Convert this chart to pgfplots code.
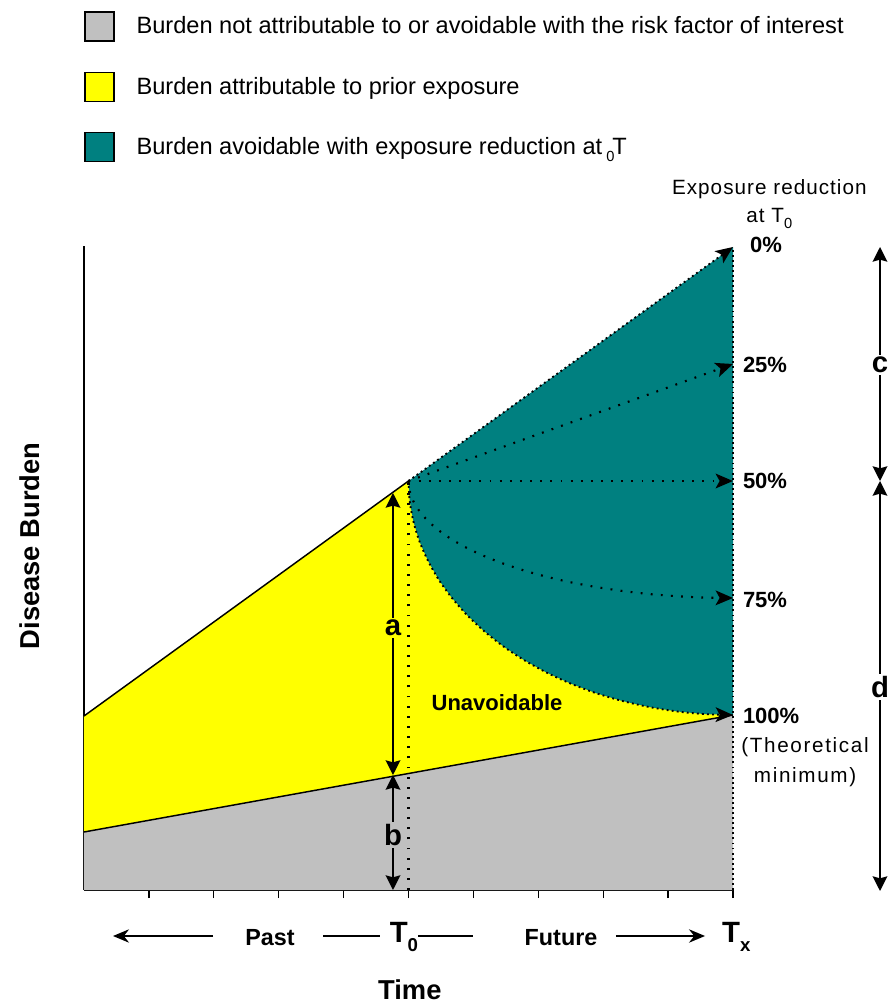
\documentclass[border=0pt]{standalone}
\usepackage{pgfplots}
\pgfplotsset{compat=1.18}
\usepackage{pgfplotstable}
\usepackage{fontspec}
\setmainfont{Liberation Sans}
\usetikzlibrary{arrows.meta}
\definecolor{cgray}{RGB}{192,192,192}
\definecolor{cyellow}{RGB}{255,255,0}
\definecolor{cteal}{RGB}{0,128,128}
% reduction curves (x, 100% reduction, 75% reduction)
\pgfplotstableread{
x      y100   y75
5.000  409.0  409.0
5.019  388.6  398.8
5.076  368.4  388.7
5.170  348.4  378.7
5.302  329.0  369.0
5.468  310.1  359.6
5.670  292.0  350.5
5.904  274.8  341.9
6.170  258.6  333.8
6.464  243.5  326.3
6.786  229.7  319.4
7.132  217.3  313.2
7.500  206.4  307.7
7.887  196.9  303.0
8.290  189.1  299.1
8.706  183.0  296.0
9.132  178.6  293.8
9.564  175.9  292.4
10.000 175.0  292.0
}\curves
\begin{document}
\begin{tikzpicture}[
  dotl/.style={black, line width=1.6pt, dash pattern=on 1.4pt off 6.2pt},
  dens/.style={black, line width=1.4pt, dash pattern=on 1.4pt off 2.4pt},
  tip/.style={-{Stealth[length=13pt,width=11pt,inset=3pt]}},
  dtip/.style={line width=1.4pt,{Stealth[length=11pt,width=11pt,inset=1.5pt]}-{Stealth[length=11pt,width=11pt,inset=1.5pt]}},
  bl/.style={font=\bfseries\fontsize{22}{26}\selectfont, inner sep=1.5pt},
  pc/.style={font=\bfseries\fontsize{16.5}{20}\selectfont, anchor=west, inner sep=0pt},
]
\begin{axis}[
  at={(0,0)}, anchor=south west,
  scale only axis, width=486.75pt, height=483pt,
  xmin=0, xmax=10, ymin=0, ymax=644,
  axis x line*=bottom, axis y line*=left,
  axis line style={line width=1.5pt},
  xtick={1,...,10}, xticklabels={}, ytick=\empty,
  tick align=outside, major tick length=6pt,
  xtick style={line width=1pt, black},
  clip=false,
  legend style={at={(axis cs:0,879)}, anchor=north west, draw=none, fill=none,
    inner sep=0pt, row sep=22.5pt, column sep=16.5pt,
    nodes={inner sep=0pt, anchor=west}, font=\fontsize{17.7}{20}\selectfont},
  legend cell align=left,
  legend image code/.code={\draw[#1, draw=black, line width=1pt] (0pt,-10.875pt) rectangle (21.75pt,10.875pt);},
]
% filled areas
\addplot[fill=cgray, draw=none] coordinates {(0,0) (0,58) (10,175) (10,0)};
\addlegendentry{Burden not attributable to or avoidable with the risk factor of interest}
\addplot[fill=cyellow, draw=none] coordinates {(0,58) (0,174) (5,409) (10,175)};
\addlegendentry{Burden attributable to prior exposure}
\addplot[fill=cteal, draw=none] coordinates {
 (5.000,409.0) (5.019,388.6) (5.076,368.4) (5.170,348.4) (5.302,329.0) (5.468,310.1)
 (5.670,292.0) (5.904,274.8) (6.170,258.6) (6.464,243.5) (6.786,229.7) (7.132,217.3)
 (7.500,206.4) (7.887,196.9) (8.290,189.1) (8.706,183.0) (9.132,178.6) (9.564,175.9)
 (10.000,175.0) (10,643)};
\addlegendentry{Burden avoidable with exposure reduction at\,\raisebox{-0.55ex}{\fontsize{11}{12}\selectfont 0}\kern-1.5pt T}
% boundary lines
\addplot[forget plot, black, line width=1.1pt] coordinates {(0,58) (10,175)};
\addplot[forget plot, black, line width=1.1pt] coordinates {(0,174) (5,409)};
\addplot[forget plot, dotl] coordinates {(5,0) (5,409)};
\addplot[forget plot, dens] coordinates {(10,0) (10,643)};
% reduction scenarios
\addplot[forget plot, dens, tip] coordinates {(5,409) (10,643)};
\addplot[forget plot, dotl, tip] coordinates {(5,409) (10,526)};
\addplot[forget plot, dotl, tip] coordinates {(5,409) (10,409)};
\addplot[forget plot, dotl, tip, smooth] table[x=x, y=y75] {\curves};
\addplot[forget plot, dens, tip, smooth] table[x=x, y=y100] {\curves};
% a, b arrows
\draw[dtip] (axis cs:4.761,115) -- (axis cs:4.761,397);
\node[bl, fill=cyellow] at (axis cs:4.761,262) {a};
\draw[dtip] (axis cs:4.761,0) -- (axis cs:4.761,115);
\node[bl, fill=cgray] at (axis cs:4.761,55) {b};
% c, d arrows
\draw[dtip] (axis cs:12.265,409) -- (axis cs:12.265,643);
\node[bl, fill=white] at (axis cs:12.265,525) {c};
\draw[dtip] (axis cs:12.265,-1) -- (axis cs:12.265,409);
\node[bl, fill=white] at (axis cs:12.265,203) {d};
% percentage labels
\node[pc] at (axis cs:10.26,645) {0\%};
\node[pc] at (axis cs:10.15,525) {25\%};
\node[pc] at (axis cs:10.15,409) {50\%};
\node[pc] at (axis cs:10.15,290) {75\%};
\node[pc] at (axis cs:10.15,174) {100\%};
\node[font=\fontsize{15.5}{22}\selectfont\addfontfeatures{LetterSpace=8}, align=center, inner sep=0pt] at (axis cs:11.11,128) {(Theoretical\\minimum)};
\node[font=\fontsize{15.5}{21}\selectfont\addfontfeatures{LetterSpace=5}, align=center, inner sep=0pt] at (axis cs:10.56,686) {Exposure reduction\\at T\raisebox{-0.5ex}{\fontsize{11}{12}\selectfont 0}};
\node[font=\bfseries\fontsize{16.5}{20}\selectfont] at (axis cs:6.364,187) {Unavoidable};
% axis titles
\node[font=\bfseries\fontsize{20.5}{24}\selectfont, rotate=90] at (axis cs:-0.832,344) {Disease Burden};
\node[font=\bfseries\fontsize{20.5}{24}\selectfont] at (axis cs:5.02,-100) {Time};
% time line
\draw[line width=1.4pt, -{Stealth[length=12pt,width=10pt]}] (axis cs:1.988,-46) -- (axis cs:0.447,-46);
\node[font=\bfseries\fontsize{17.5}{20}\selectfont] at (axis cs:2.866,-48) {Past};
\draw[line width=1.4pt] (axis cs:3.683,-46) -- (axis cs:4.561,-46);
\node[font=\bfseries\fontsize{22}{24}\selectfont] at (axis cs:4.93,-47) {T\raisebox{-0.6ex}{\fontsize{14}{15}\selectfont 0}};
\draw[line width=1.4pt] (axis cs:5.15,-46) -- (axis cs:5.99,-46);
\node[font=\bfseries\fontsize{17.5}{20}\selectfont] at (axis cs:7.35,-48) {Future};
\draw[line width=1.4pt, -{Stealth[length=12pt,width=10pt]}] (axis cs:8.197,-46) -- (axis cs:9.569,-46);
\node[font=\bfseries\fontsize{22}{24}\selectfont] at (axis cs:10.05,-47) {T\raisebox{-0.6ex}{\fontsize{14}{15}\selectfont x}};
\end{axis}
\pgfresetboundingbox
\path[use as bounding box] (-63pt,-87pt) rectangle (603.75pt,667.5pt);
\end{tikzpicture}
\end{document}
